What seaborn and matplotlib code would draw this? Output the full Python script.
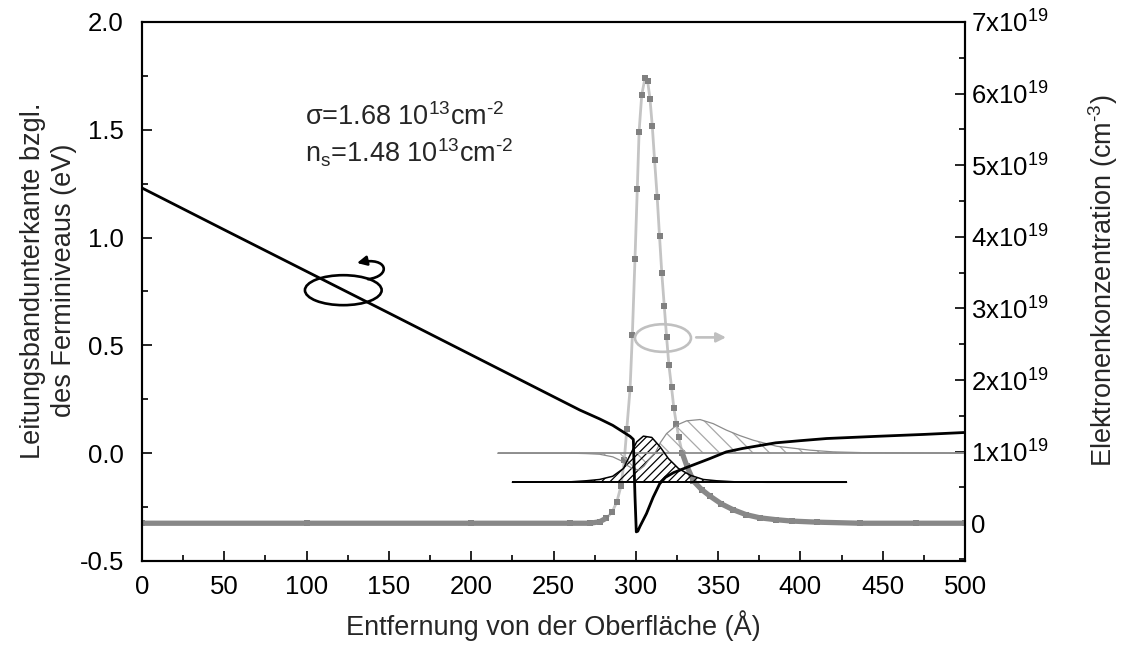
import numpy as np
import matplotlib
matplotlib.use("Agg")
import matplotlib.pyplot as plt
import seaborn as sns
from matplotlib.patches import Ellipse, FancyArrowPatch
from matplotlib.path import Path
from matplotlib.ticker import FixedLocator, MultipleLocator, FixedFormatter

# ---------------- data ----------------
# conduction band edge relative to Fermi level (eV) vs. distance (Angstrom)
band_x = [0, 50, 100, 150, 200, 250, 266, 278, 286, 292, 296.5, 298.5, 299.5, 300.3,
          301.2, 302.5, 304.5, 306.5, 310.5, 314.5, 318, 323, 331, 345, 355, 365, 385,
          400, 416, 446, 475, 500]
band_y = [1.23, 1.036, 0.843, 0.65, 0.456, 0.262, 0.200, 0.159, 0.129, 0.100, 0.078,
          0.064, -0.20, -0.365, -0.362, -0.34, -0.31, -0.28, -0.205, -0.142, -0.112,
          -0.090, -0.066, -0.025, 0.006, 0.022, 0.048, 0.058, 0.068, 0.078, 0.087,
          0.096]

# electron concentration (units of 1e19 cm^-3)
conc_x = [0, 100, 200, 260, 272, 278, 282, 285.5, 288.5, 291, 293, 294.5, 296.5, 297.9,
          299.5, 300.9, 302, 303.6, 305.6, 307.2, 308.6, 310, 311.4, 313, 314.4, 315.8,
          317.3, 318.7, 320.1, 321.7, 323.1, 324.7, 326.1, 328.2, 331, 335, 340, 345,
          352, 359, 367, 375.5, 385, 395, 410, 436, 470, 500]
conc_v = [0, 0, 0, 0, 0, 0.02, 0.07, 0.15, 0.30, 0.52, 0.88, 1.31, 1.87, 2.63,
          3.69, 4.67, 5.47, 5.98, 6.22, 6.17, 5.93, 5.55, 5.07, 4.55, 4.01, 3.49,
          3.03, 2.60, 2.21, 1.90, 1.61, 1.38, 1.20, 0.98, 0.80, 0.59, 0.47, 0.38,
          0.27, 0.19, 0.12, 0.075, 0.05, 0.03, 0.015, 0.0, 0.0, 0.0]

# first subband: level and wavefunction (eV)
E1 = -0.135
wf1_x = [225, 260, 270, 278, 286, 292.5, 296.5, 300.5, 304.6, 309.7, 314.8, 319.8,
         325.9, 333, 341, 349, 363, 380, 428]
wf1_y = [-0.135, -0.133, -0.128, -0.122, -0.107, -0.071, -0.009, 0.052, 0.079, 0.073,
         0.029, -0.025, -0.071, -0.102, -0.122, -0.128, -0.134, -0.135, -0.135]

# second subband: level and wavefunction (eV)
E2 = 0.0
wf2_x = [216, 260, 270, 278, 286, 291, 295, 299, 302, 305, 308, 311.7, 315, 318.7,
         324.8, 330.9, 339, 347, 355, 363, 371.4, 385.6, 405.8, 420, 440, 500]
wf2_y = [0, 0, -0.002, -0.005, -0.017, -0.035, -0.058, -0.075, -0.078, -0.06, -0.03,
         0.0, 0.05, 0.091, 0.13, 0.15, 0.156, 0.137, 0.107, 0.082, 0.06, 0.032, 0.014,
         0.006, 0.002, 0]

right_ticks = [0, 1, 2, 3, 4, 5, 6, 7]
right_labels = ['0'] + [r'$\mathregular{%dx10^{19}}$' % k for k in range(1, 8)]

# ---------------- style ----------------
sns.set_theme(style="ticks")
plt.rcParams['font.family'] = ['Liberation Sans', 'DejaVu Sans']
plt.rcParams['mathtext.fontset'] = 'custom'
plt.rcParams['mathtext.rm'] = 'Liberation Sans'
plt.rcParams['mathtext.it'] = 'Liberation Sans:italic'
plt.rcParams['mathtext.bf'] = 'Liberation Sans:bold'
plt.rcParams['hatch.linewidth'] = 0.9

TICK_FS = 18.5
LABEL_FS = 19.5

fig = plt.figure(figsize=(11.25, 6.48), dpi=100)
ax = fig.add_axes([0.1262, 0.1343, 0.7316, 0.8318])
ax2 = ax.twinx()

# concentration on right axis (drawn below the left-axis content)
conc_df_x = np.array(conc_x)
conc_df_v = np.array(conc_v)
sns.lineplot(x=conc_df_x, y=conc_df_v, ax=ax2, color='#c4c4c4', lw=2.0,
             marker='s', markersize=4.2, markerfacecolor='#808080',
             markeredgecolor='#808080', markeredgewidth=0, sort=False)
left_mask = conc_df_x <= 282
right_mask = conc_df_x >= 328
ax2.plot(conc_df_x[left_mask], conc_df_v[left_mask], color='#888888', lw=3.8,
         solid_capstyle='butt')
ax2.plot(conc_df_x[right_mask], conc_df_v[right_mask], color='#888888', lw=3.8,
         solid_capstyle='round')
ax2.set_ylim(-0.527, 7.0)
ax2.yaxis.set_major_locator(FixedLocator(right_ticks))
ax2.yaxis.set_major_formatter(FixedFormatter(right_labels))
ax2.yaxis.set_minor_locator(MultipleLocator(0.5))
ax2.set_ylabel(r'Elektronenkonzentration (cm$^{\text{-3}}$)', fontsize=LABEL_FS)
ax2.yaxis.set_label_coords(1.147, 0.52)

# left-axis content on top
ax.set_zorder(ax2.get_zorder() + 1)
ax.patch.set_visible(False)

# wavefunctions (hatched)
ax.fill_between(wf2_x, wf2_y, E2, facecolor='none', edgecolor='#a8a8a8',
                hatch='\\\\', linewidth=0)
ax.plot(wf2_x, wf2_y, color='#8c8c8c', lw=0.9)
ax.hlines(E2, wf2_x[0], wf2_x[-1], color='#8c8c8c', lw=1.3)

ax.fill_between(wf1_x, wf1_y, E1, facecolor='none', edgecolor='black',
                hatch='////', linewidth=0)
ax.plot(wf1_x, wf1_y, color='black', lw=1.1)
ax.hlines(E1, wf1_x[0], wf1_x[-1], color='black', lw=1.4)

# band edge
sns.lineplot(x=band_x, y=band_y, ax=ax, color='black', lw=2.0, sort=False)

ax.set_xlim(0, 500)
ax.set_ylim(-0.5, 2.0)
ax.xaxis.set_major_locator(MultipleLocator(50))
ax.xaxis.set_minor_locator(MultipleLocator(25))
ax.yaxis.set_major_locator(MultipleLocator(0.5))
ax.yaxis.set_minor_locator(MultipleLocator(0.25))
ax.yaxis.set_major_formatter(matplotlib.ticker.FormatStrFormatter('%.1f'))

for a in (ax, ax2):
    for sp in a.spines.values():
        sp.set_linewidth(1.5)
        sp.set_color('black')
ax.tick_params(axis='both', which='both', direction='in', top=False, right=False,
               labelsize=TICK_FS, width=1.2, colors='black')
ax.tick_params(which='major', length=7)
ax.tick_params(axis='x', which='major', pad=10)
ax.tick_params(axis='y', which='major', pad=13)
ax.tick_params(which='minor', length=4)
ax2.tick_params(axis='y', which='both', direction='in', labelsize=TICK_FS, width=1.2,
                colors='black')
ax2.tick_params(which='major', length=7, pad=4)
ax2.tick_params(which='minor', length=4)

ax.set_xlabel('Entfernung von der Oberfläche (Å)', fontsize=LABEL_FS, labelpad=8)
ax.set_ylabel('Leitungsbandunterkante bzgl.\ndes Ferminiveaus (eV)', fontsize=LABEL_FS,
              linespacing=1.25)
ax.yaxis.set_label_coords(-0.079, 0.52)

# annotations
ax.text(99, 1.522, r'σ=1.68 10$^{\text{13}}$cm$^{\text{-2}}$',
        fontsize=LABEL_FS, va='baseline', ha='left')
ax.text(99, 1.346, r'n$_{\text{s}}$=1.48 10$^{\text{13}}$cm$^{\text{-2}}$',
        fontsize=LABEL_FS, va='baseline', ha='left')

ax.add_patch(Ellipse((122.3, 0.756), 46.6, 0.139, facecolor='none',
                     edgecolor='black', lw=1.9, zorder=5))
hook = Path([(137.3, 0.807), (151.9, 0.821), (149.5, 0.914), (130.6, 0.882)],
            [Path.MOVETO, Path.CURVE4, Path.CURVE4, Path.CURVE4])
ax.add_patch(FancyArrowPatch(path=hook, arrowstyle='-|>', mutation_scale=14,
                             color='black', lw=1.9, zorder=5))

ax.add_patch(Ellipse((316.5, 0.534), 34.0, 0.128, facecolor='none',
                     edgecolor='#c0c0c0', lw=1.9, zorder=5))
ax.add_patch(FancyArrowPatch((335.0, 0.537), (356.5, 0.537), arrowstyle='-|>',
                             mutation_scale=14, color='#c0c0c0', lw=1.9, zorder=5))

fig.savefig('out.png', dpi=100)
